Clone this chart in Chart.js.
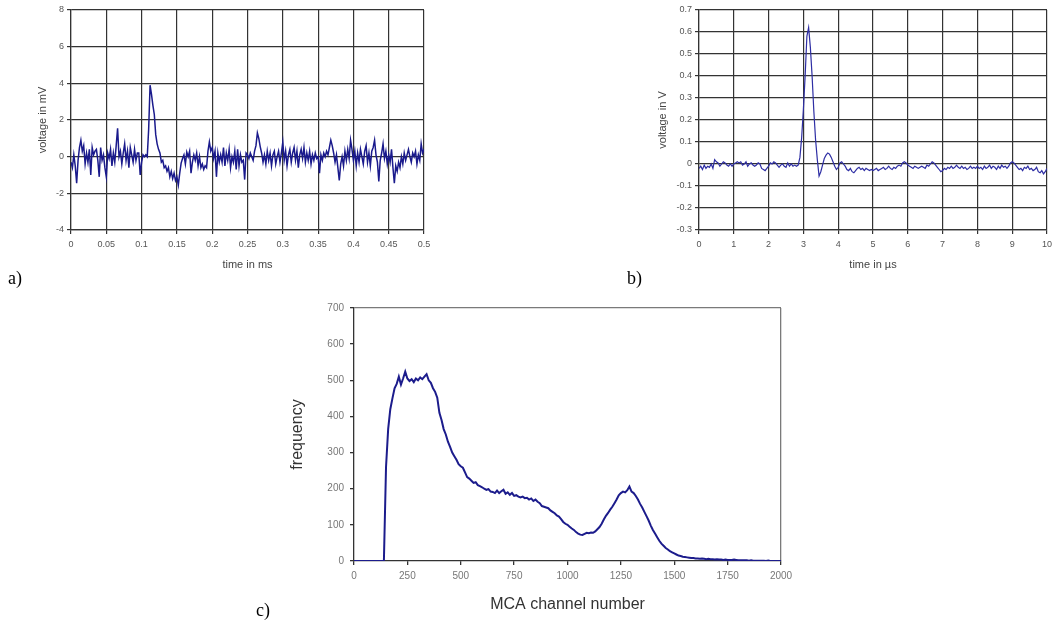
<!DOCTYPE html>
<html>
<head>
<meta charset="utf-8">
<script src="https://cdn.jsdelivr.net/npm/chart.js@4/dist/chart.umd.min.js"></script>
<style>
  body { margin: 0; background: #fff; width: 1058px; height: 628px; position: relative; overflow: hidden; }
  canvas { position: absolute; }
  .lab { position: absolute; font-family: "Liberation Serif", "Times New Roman", serif; font-size: 18px; color: #000; }
</style>
</head>
<body>
<canvas id="chartA" width="440" height="290" style="left:0;top:0"></canvas>
<canvas id="chartB" width="438" height="290" style="left:620px;top:0"></canvas>
<canvas id="chartC" width="560" height="333" style="left:250px;top:295px"></canvas>
<div class="lab" style="left:8px;top:268px">a)</div>
<div class="lab" style="left:627px;top:268px">b)</div>
<div class="lab" style="left:256px;top:600px">c)</div>
<script>
// a) voltage in mV, one value every 0.002 ms from 0 to 0.5 ms
const tStepA = 0.002;
const voltageA = [
  -0.3, -0.6, 0.1, -0.5, -1.45, -0.2, 0.5, 0.9, 0.3, 0.6, -0.4, 0.2, -0.3, 0.4, -1.0, 0.5, 0.1, 0.3, 0.4, -0.2, -1.1, 0.5, -0.2, 0.1, -0.6,
  -1.1, 0.2, -0.1, 0.4, -0.5, 0.2, -0.3, 0.6, 1.55, 0.0, 0.3, -0.4, 0.2, 0.7, -0.2, 0.3, -0.6, 0.5, 0.1, -0.3, 0.4, -0.2, 0.2, 0.2, -1.0,
  -0.3, 0.1, 0.0, 0.1, 0.0, 1.5, 3.9, 3.4, 2.8, 2.3, 1.2, 0.7, 0.4, 0.2, -0.3, -0.2, -0.6, -0.5, -0.8, -0.6, -1.1, -0.8, -1.2, -0.9, -1.3,
  -1.1, -1.55, -0.9, -0.35, -0.1, 0.1, -0.4, 0.25, 0.0, 0.3, -0.9, -0.3, 0.1, -0.2, 0.2, -0.5, 0.0, -0.6, -0.4, -0.7, -0.5, -0.6, 0.3, 0.8, 0.3,
  0.5, -0.1, 0.3, -1.1, 0.2, -0.3, 0.1, -0.3, 0.5, -0.5, 0.2, -0.2, 0.4, -0.6, 0.0, -0.3, 0.3, -0.7, 0.4, -0.5, 0.1, -0.3, -0.2, -1.25, 0.2,
  0.1, -0.1, 0.2, 0.0, -0.2, 0.3, 0.6, 1.3, 1.0, 0.55, 0.2, -0.3, 0.1, -0.4, 0.3, -0.2, 0.2, -0.5, 0.1, 0.3, -0.4, 0.0, 0.3, -0.3, 0.2,
  0.8, -0.2, 0.3, -0.5, 0.1, 0.4, -0.3, 0.2, 0.5, -0.2, 0.3, -0.6, 0.1, 0.4, -0.1, 0.5, -0.3, 0.2, -0.2, 0.3, -0.4, 0.1, -0.2, 0.2, -0.1,
  0.0, -0.9, 0.1, -0.2, 0.2, 0.0, 0.3, 0.1, 0.5, 0.9, 0.6, 0.2, -0.3, 0.1, -0.6, -1.3, -0.4, 0.0, -0.5, 0.3, -0.2, 0.4, -0.1, 0.9, 0.4,
  -0.2, 0.3, -0.5, 0.2, -0.3, 0.4, 0.0, -0.4, 0.3, 0.6, -0.3, 0.2, -0.5, 0.3, 0.5, 0.9, 0.1, -0.3, -1.35, -0.2, 0.2, 0.7, -0.1, 0.3, -0.4,
  0.1, -0.3, 0.4, -0.6, -1.45, -0.5, -0.8, -0.3, -0.6, 0.0, -0.4, 0.2, -0.2, 0.1, 0.4, 0.0, -0.3, 0.2, 0.0, 0.3, -0.4, 0.1, -0.2, 0.7, 0.2,
  0.4
];
const xTicksA = [0, 0.05, 0.1, 0.15, 0.2, 0.25, 0.3, 0.35, 0.4, 0.45, 0.5];
const yTicksA = [-4, -2, 0, 2, 4, 6, 8];

// b) voltage in V, one value every 0.05 µs from 0 to 10 µs
const tStepB = 0.05;
const voltageB = [
  -0.02, -0.01, -0.025, -0.005, -0.02, -0.01, -0.015, 0.0, -0.02, 0.02, 0.01, 0.005, -0.01, 0.0, 0.01, 0.005, -0.005, -0.01, 0.0, -0.01,
  0.0, 0.005, 0.01, 0.005, 0.01, -0.005, 0.0, 0.01, -0.01, 0.0, 0.005, -0.005, -0.01, -0.005, 0.005, 0.0, -0.02, -0.025, -0.03, -0.02,
  -0.01, 0.005, 0.0, 0.01, 0.005, -0.005, -0.015, -0.005, 0.0, -0.01, -0.015, 0.005, -0.01, 0.0, -0.01, -0.005, -0.01, -0.005, 0.03, 0.12,
  0.25, 0.4, 0.58, 0.62, 0.53, 0.4, 0.24, 0.11, 0.02, -0.055, -0.035, -0.005, 0.025, 0.04, 0.05, 0.045, 0.03, 0.01, -0.01, -0.025,
  -0.015, 0.005, 0.01, 0.0, -0.01, -0.025, -0.03, -0.02, -0.035, -0.04, -0.03, -0.02, -0.015, -0.025, -0.02, -0.03, -0.02, -0.025, -0.03, -0.025,
  -0.03, -0.025, -0.02, -0.03, -0.025, -0.02, -0.015, -0.025, -0.02, -0.01, -0.02, -0.025, -0.015, -0.02, -0.01, -0.005, -0.01, 0.005, 0.01, 0.005,
  -0.005, -0.01, -0.015, -0.02, -0.01, -0.015, -0.02, -0.015, -0.01, -0.015, -0.02, -0.005, -0.01, 0.0, 0.01, 0.005, -0.005, -0.015, -0.025, -0.035,
  -0.03, -0.02, -0.025, -0.015, -0.02, -0.01, -0.02, -0.015, -0.005, -0.015, -0.02, -0.01, -0.02, -0.015, -0.025, -0.02, -0.01, -0.02, -0.015, -0.02,
  -0.01, -0.02, -0.015, -0.025, -0.01, -0.02, -0.015, -0.005, -0.02, -0.01, -0.015, -0.025, -0.01, -0.02, -0.005, -0.015, -0.01, -0.02, -0.01, 0.005,
  0.01, 0.005, -0.005, -0.015, -0.025, -0.02, -0.03, -0.015, -0.02, -0.01, -0.025, -0.02, -0.03, -0.025, -0.015, -0.035, -0.04, -0.03, -0.045, -0.035,
  -0.02
];
const xTicksB = [0, 1, 2, 3, 4, 5, 6, 7, 8, 9, 10];
const yTicksB = [-0.3, -0.2, -0.1, 0, 0.1, 0.2, 0.3, 0.4, 0.5, 0.6, 0.7];

// c) spectrum, one value every 10 channels from 0 to 2000
const channelStepC = 10;
const frequencyC = [
  0, 0, 0, 0, 0, 0, 0, 0, 0, 0,
  0, 0, 0, 0, 0, 260, 365, 420, 450, 478,
  490, 510, 488, 505, 524, 505, 498, 503, 495, 505,
  500, 508, 503, 510, 517, 500, 493, 478, 468, 452,
  410, 390, 365, 350, 330, 316, 300, 290, 280, 268,
  262, 258, 245, 232, 228, 222, 216, 218, 210, 207,
  204, 200, 197, 199, 192, 191, 188, 195, 188, 193,
  197, 186, 190, 183, 188, 180, 182, 178, 176, 178,
  174, 175, 170, 173, 166, 170, 164, 160, 152, 150,
  148, 146, 140, 136, 132, 126, 123, 116, 108, 103,
  100, 95, 90, 86, 80, 76, 73, 72, 75, 78,
  77, 79, 78, 82, 88, 94, 103, 115, 125, 133,
  142, 150, 160, 170, 182, 188, 192, 190, 196, 206,
  192, 188, 180, 170, 158, 148, 136, 124, 112, 98,
  86, 76, 66, 56, 48, 42, 36, 32, 27, 24,
  21, 18, 15, 14, 12, 11, 10, 9, 8, 8,
  7, 7, 6, 7, 6, 5, 6, 5, 5, 4,
  5, 4, 4, 3, 4, 3, 3, 3, 4, 3,
  2, 2, 2, 2, 2, 1, 2, 1, 1, 1,
  1, 1, 1, 0, 1, 0, 0, 0, 0, 0,
  0
];
const xTicksC = [0, 250, 500, 750, 1000, 1250, 1500, 1750, 2000];
const yTicksC = [0, 100, 200, 300, 400, 500, 600, 700];

const sans = "'Liberation Sans', Arial, sans-serif";

// transforme une serie en points {x, y}
const toPoints = (values, step) => values.map((v, i) => ({x: +(i * step).toFixed(4), y: v}));
const fixTicks = (list) => (scale) => { scale.ticks = list.map(v => ({value: v})); };

// petit graphique oscilloscope (a et b)
const getScope = (id, values, step, xTicks, yTicks, xTitle, yTitle, yWidth, rightPad, lineColor, lineWidth) => {
  const grid = {color: '#333', lineWidth: 1.2, tickLength: 4};
  new Chart(document.getElementById(id), {
    type: 'line',
    data: {datasets: [{data: toPoints(values, step), borderColor: lineColor, borderWidth: lineWidth, pointRadius: 0, tension: 0}]},
    options: {
      responsive: false,
      animation: false,
      layout: {padding: {left: 0, top: 10, right: rightPad, bottom: 0}},
      plugins: {legend: {display: false}, tooltip: {enabled: false}},
      scales: {
        x: {
          type: 'linear', min: xTicks[0], max: xTicks[xTicks.length - 1],
          afterBuildTicks: fixTicks(xTicks),
          afterFit: (s) => { s.height = 60; },
          grid: grid, border: {color: '#333', width: 1.2},
          ticks: {font: {family: sans, size: 9}, color: '#555', padding: 5, maxRotation: 0, autoSkip: false, callback: v => String(v)},
          title: {display: true, text: xTitle, font: {family: sans, size: 11}, color: '#444', padding: {top: 0, bottom: 18}}
        },
        y: {
          min: yTicks[0], max: yTicks[yTicks.length - 1],
          afterBuildTicks: fixTicks(yTicks),
          afterFit: (s) => { s.width = yWidth; },
          grid: grid, border: {color: '#333', width: 1.2},
          ticks: {font: {family: sans, size: 9}, color: '#555', padding: 3, autoSkip: false, callback: v => String(v)},
          title: {display: true, text: yTitle, font: {family: sans, size: 11}, color: '#444', padding: {top: 36, bottom: 0}}
        }
      }
    }
  });
};

getScope('chartA', voltageA, tStepA, xTicksA, yTicksA, 'time in ms', 'voltage in mV', 71, 16, '#1a1a8c', 1.5);
getScope('chartB', voltageB, tStepB, xTicksB, yTicksB, 'time in µs', 'voltage in V', 79, 11, '#2e2ea4', 1.2);

// c) spectre MCA
new Chart(document.getElementById('chartC'), {
  type: 'line',
  data: {datasets: [{data: toPoints(frequencyC, channelStepC), borderColor: '#1c1c8c', borderWidth: 2, pointRadius: 0, tension: 0}]},
  options: {
    responsive: false,
    animation: false,
    layout: {padding: {left: 0, top: 13, right: 29, bottom: 0}},
    plugins: {legend: {display: false}, tooltip: {enabled: false}},
    scales: {
      x: {
        type: 'linear', min: 0, max: 2000,
        afterBuildTicks: fixTicks(xTicksC),
        afterFit: (s) => { s.height = 67; },
        grid: {color: (c) => (c.tick && c.tick.value === 2000 ? '#7a7a7a' : 'rgba(0,0,0,0)'), tickColor: '#333', tickLength: 4, lineWidth: 1.3},
        border: {color: '#333', width: 1.3},
        ticks: {font: {family: sans, size: 10}, color: '#777', padding: 5, maxRotation: 0, autoSkip: false, callback: v => String(v)},
        title: {display: true, text: 'MCA channel number', font: {family: sans, size: 16}, color: '#333', padding: {top: 0, bottom: 14}}
      },
      y: {
        min: 0, max: 700,
        afterBuildTicks: fixTicks(yTicksC),
        afterFit: (s) => { s.width = 104; },
        grid: {color: (c) => (c.tick && c.tick.value === 700 ? '#7a7a7a' : 'rgba(0,0,0,0)'), tickColor: '#333', tickLength: 4, lineWidth: 1.3},
        border: {color: '#333', width: 1.3},
        ticks: {font: {family: sans, size: 10}, color: '#777', padding: 6, autoSkip: false, callback: v => String(v)},
        title: {display: true, text: 'frequency', font: {family: sans, size: 16}, color: '#333', padding: {top: 38, bottom: 0}}
      }
    }
  }
});
</script>
</body>
</html>
